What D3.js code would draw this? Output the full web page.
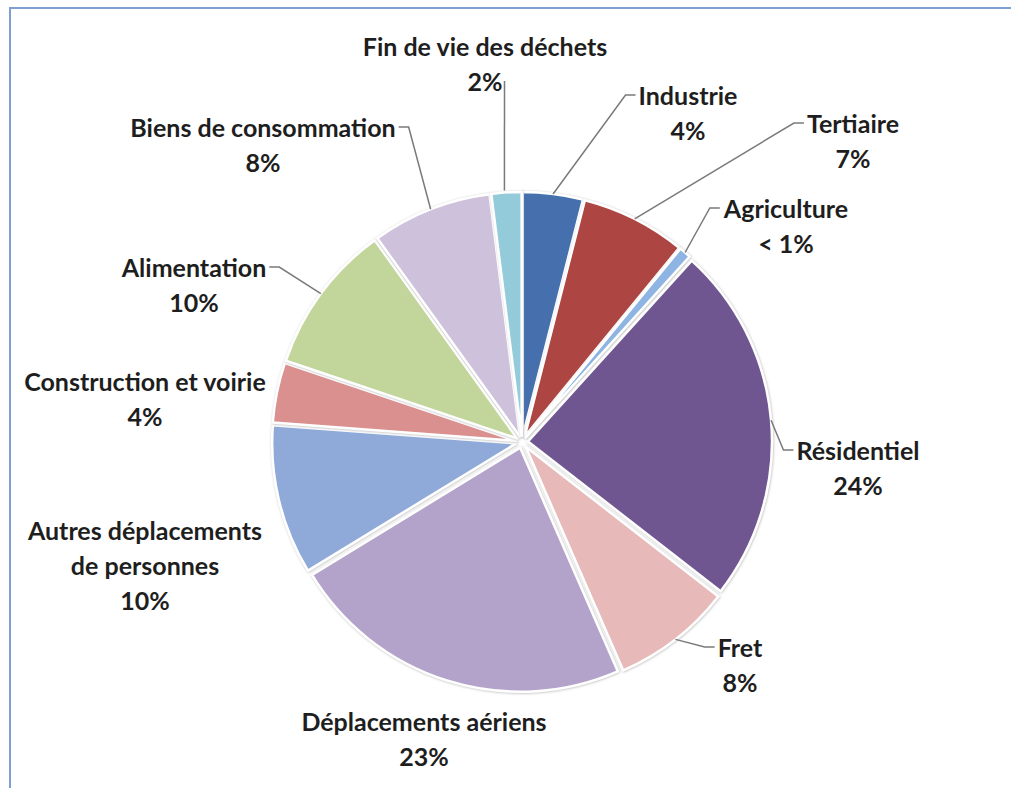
<!DOCTYPE html>
<html>
<head>
<meta charset="utf-8">
<script src="https://cdn.jsdelivr.net/npm/d3@7"></script>
<style>
  body { margin: 0; background: #fff; }
  text { font-family: Lato, "Open Sans", sans-serif; font-weight: 700; fill: #1e1e1e; }
</style>
</head>
<body>
<div id="chart"></div>
<script>
// Données (sens horaire depuis midi)
var categories = ["Industrie", "Tertiaire", "Agriculture", "Résidentiel", "Fret",
  "Déplacements aériens", "Autres déplacements|de personnes", "Construction et voirie",
  "Alimentation", "Biens de consommation", "Fin de vie des déchets"];
var values = [4, 7, 0.8, 24, 8, 23, 10, 4, 10, 8, 2];
var pctLabels = ["4%", "7%", "< 1%", "24%", "8%", "23%", "10%", "4%", "10%", "8%", "2%"];

// couleurs des parts
var colors = ["#4570ad", "#ad4542", "#8db4e2", "#6f5690", "#e8b9b9", "#b3a2c9",
  "#8faad8", "#d9908f", "#c2d69b", "#cdc1dc", "#93cbdb"];

// position des étiquettes (centre x, ligne de base y) et côté du trait de rappel
var labelPos = [
  [688, 105, "l"], [853, 133, "l"], [786, 218, "l"], [858, 460, "l"], [740, 657, "l"],
  [424, 731, null], [145, 540, null], [145, 391, null], [194, 277, "r"], [263, 137, "r"],
  [485, 56, "b"]
];

var width = 1011, height = 788;
var cx = 522, cy = 442, radius = 244, explode = 6;
var lineH = 35;

var svg = d3.select("#chart").append("svg")
  .attr("width", width)
  .attr("height", height);

// ombre légère autour des parts
var defs = svg.append("defs");
var f = defs.append("filter").attr("id", "shadow")
  .attr("x", "-10%").attr("y", "-10%").attr("width", "120%").attr("height", "120%");
f.append("feDropShadow").attr("dx", 0.5).attr("dy", 0.5).attr("stdDeviation", 1.2)
  .attr("flood-color", "#888").attr("flood-opacity", 0.6);

// cadre
svg.append("rect")
  .attr("x", 10).attr("y", 8)
  .attr("width", width + 20).attr("height", height + 20)
  .attr("fill", "none")
  .attr("stroke", "#7f9fd2")
  .attr("stroke-width", 2);

var pie = d3.pie().sort(null).value(function(d) { return d; });
var arcs = pie(values);

var arcGen = d3.arc().innerRadius(0).outerRadius(radius);

var g = svg.append("g").attr("transform", "translate(" + cx + "," + cy + ")");

function mid(d) { return (d.startAngle + d.endAngle) / 2; }

g.selectAll("path")
  .data(arcs)
  .enter()
  .append("path")
  .attr("d", arcGen)
  .attr("transform", function(d) {
    var p = d3.pointRadial(mid(d), explode);
    return "translate(" + p[0] + "," + p[1] + ")";
  })
  .attr("fill", function(d, i) { return colors[i]; })
  .attr("stroke", "#fff")
  .attr("stroke-width", 2.5)
  .attr("stroke-linejoin", "round")
  .attr("filter", "url(#shadow)");

// étiquettes
var labels = svg.append("g");
arcs.forEach(function(d, i) {
  var lp = labelPos[i];
  var lines = categories[i].split("|").concat([pctLabels[i]]);
  var t = labels.append("text")
    .attr("text-anchor", "middle")
    .attr("font-size", "25px");
  lines.forEach(function(s, k) {
    t.append("tspan")
      .attr("x", lp[0])
      .attr("y", lp[1] + k * lineH)
      .text(s);
  });

  if (!lp[2]) return;
  // trait de rappel
  var first = t.select("tspan").node().getBBox();
  var edge = d3.pointRadial(mid(d), radius + explode);
  var ex = cx + edge[0], ey = cy + edge[1];
  var pts;
  if (lp[2] == "l") {
    var ax = first.x - 3, ay = first.y + first.height / 2;
    pts = [[ax, ay], [ax - 10, ay], [ex, ey]];
  } else if (lp[2] == "r") {
    var ax = first.x + first.width + 3, ay = first.y + first.height / 2;
    pts = [[ax, ay], [ax + 10, ay], [ex, ey]];
  } else {
    var last = t.selectAll("tspan").nodes().slice(-1)[0].getBBox();
    var ax = last.x + last.width + 2, ay = last.y + last.height / 2;
    pts = [[ax, ay], [ex - 2, ey - 2]];
  }
  labels.append("path")
    .attr("d", d3.line()(pts))
    .attr("fill", "none")
    .attr("stroke", "#7a7a7a")
    .attr("stroke-width", 1.5);
});
</script>
</body>
</html>
